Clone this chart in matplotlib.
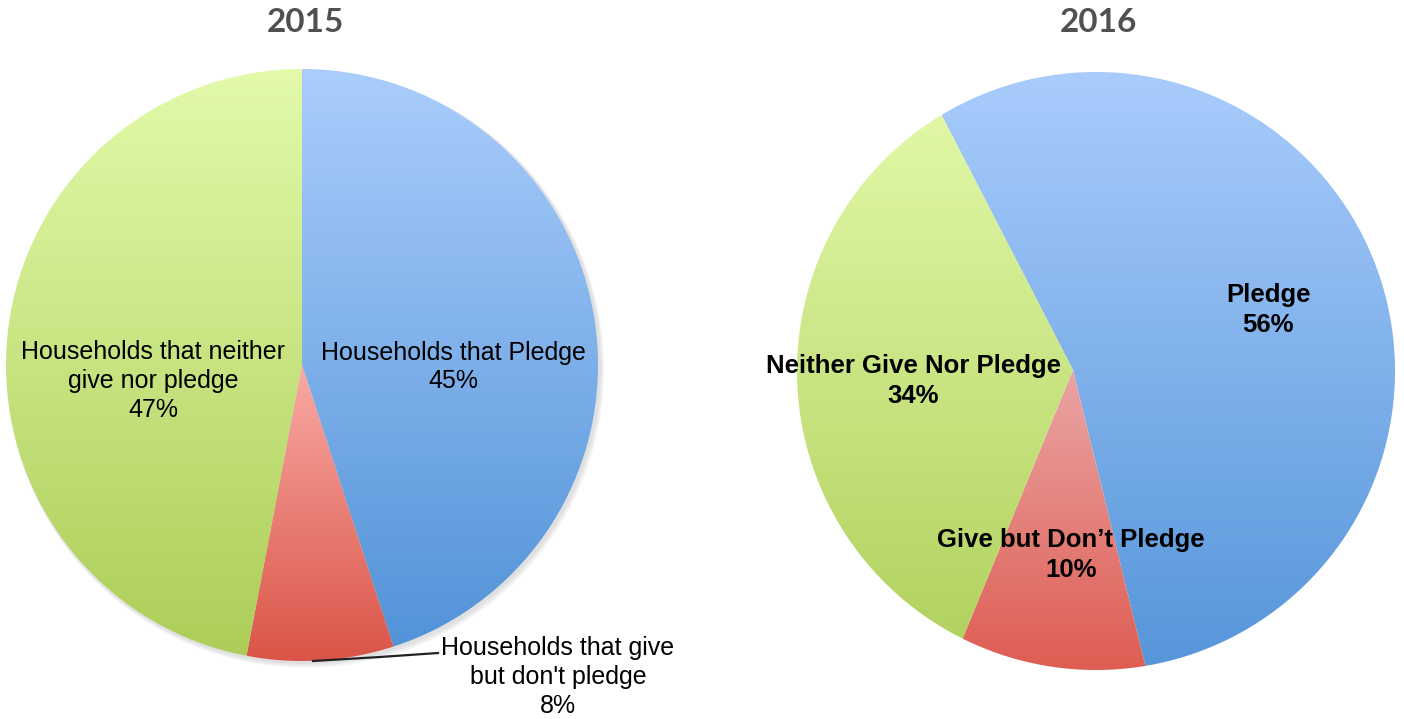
import numpy as np
import matplotlib
matplotlib.use("Agg")
import matplotlib.pyplot as plt
from matplotlib.patches import Polygon, Circle
from matplotlib.colors import LinearSegmentedColormap

# data
years = ["2015", "2016"]
labels_2015 = ["Households that Pledge", "Households that give\nbut don't pledge",
               "Households that neither\ngive nor pledge"]
values_2015 = [45, 8, 47]
labels_2016 = ["Pledge", "Give but Don\u2019t Pledge", "Neither Give Nor Pledge"]
values_2016 = [56, 10, 34]

# gradient colours (top, bottom) per slice: pledge, give only, neither
grad_2015 = [("#aacdfc", "#5293d8"), ("#f9aaa5", "#da5447"), ("#e2faaa", "#acce58")]
grad_2016 = [("#a9ccfc", "#5696da"), ("#eaa5a5", "#de5d52"), ("#e0f8a6", "#b2d260")]


def draw_pie(ax, values, grads, center, radius, startangle, vertex=None):
    """Draw a clockwise pie with vertical gradient slices; returns slice polygons."""
    cx, cy = center
    vx, vy = vertex if vertex is not None else center
    fracs = np.array(values, dtype=float) / np.sum(values)
    bounds = startangle - np.concatenate([[0], np.cumsum(fracs)]) * 360
    patches = []
    for i, (c_top, c_bot) in enumerate(grads):
        th = np.radians(np.linspace(bounds[i], bounds[i + 1], 200))
        xs = cx + radius * np.cos(th)
        ys = cy - radius * np.sin(th)
        pts = np.vstack([[vx, vy], np.column_stack([xs, ys])])
        poly = Polygon(pts, closed=True, facecolor="none", edgecolor="none")
        ax.add_patch(poly)
        x0, x1 = pts[:, 0].min(), pts[:, 0].max()
        y0, y1 = pts[:, 1].min(), pts[:, 1].max()
        cmap = LinearSegmentedColormap.from_list(f"g{i}", [c_top, c_bot])
        grad = np.linspace(0, 1, 256).reshape(-1, 1)
        im = ax.imshow(grad, cmap=cmap, extent=(x0, x1, y1, y0), origin="upper",
                       aspect="auto", interpolation="bilinear", zorder=2)
        im.set_clip_path(poly)
        patches.append((poly, bounds[i], bounds[i + 1]))
    return patches


fig = plt.figure(figsize=(14.04, 7.19), dpi=100)
ax = fig.add_axes([0, 0, 1, 1])
ax.axis("off")

# soft shadow under the 2015 pie
for k, a in enumerate([0.06, 0.06, 0.07]):
    ax.add_patch(Circle((304 + k * 0.7, 367 + k * 1.0), 297 + k * 0.8,
                        facecolor="#555555", edgecolor="none", alpha=a, zorder=1))

left = draw_pie(ax, values_2015, grad_2015, (302, 365), 296, 90)
right = draw_pie(ax, values_2016, grad_2016, (1096, 371), 299, 121.1,
                 vertex=(1073, 370))

title_font = dict(family="Lato", fontsize=24, fontweight="bold", color="#505050")
ax.text(305, 22, years[0], ha="center", va="center", **title_font)
ax.text(1098, 22, years[1], ha="center", va="center", **title_font)

reg = dict(family="Liberation Sans", fontsize=18, color="black",
           ha="center", va="center", linespacing=1.25, zorder=5)
ax.text(453, 367, f"{labels_2015[0]}\n{values_2015[0]}%", **reg)
ax.text(558, 677, f"{labels_2015[1]}\n{values_2015[1]}%", **reg)
ax.text(153, 381, f"{labels_2015[2]}\n{values_2015[2]}%", **reg)
ax.plot([313, 380, 438], [661, 657, 653], color="#222222", lw=1.6, zorder=4)

bold = dict(family="Liberation Sans", fontsize=18.5, fontweight="bold", color="black",
            ha="center", va="center", linespacing=1.28, zorder=5)
ax.text(1268, 310, f"{labels_2016[0]}\n{values_2016[0]}%", **bold)
ax.text(1071, 555, f"{labels_2016[1]}\n{values_2016[1]}%", **bold)
ax.text(913, 381, f"{labels_2016[2]}\n{values_2016[2]}%", **bold)

ax.set_xlim(0, 1404)
ax.set_ylim(719, 0)

fig.savefig("out.png", dpi=100, facecolor="white")
